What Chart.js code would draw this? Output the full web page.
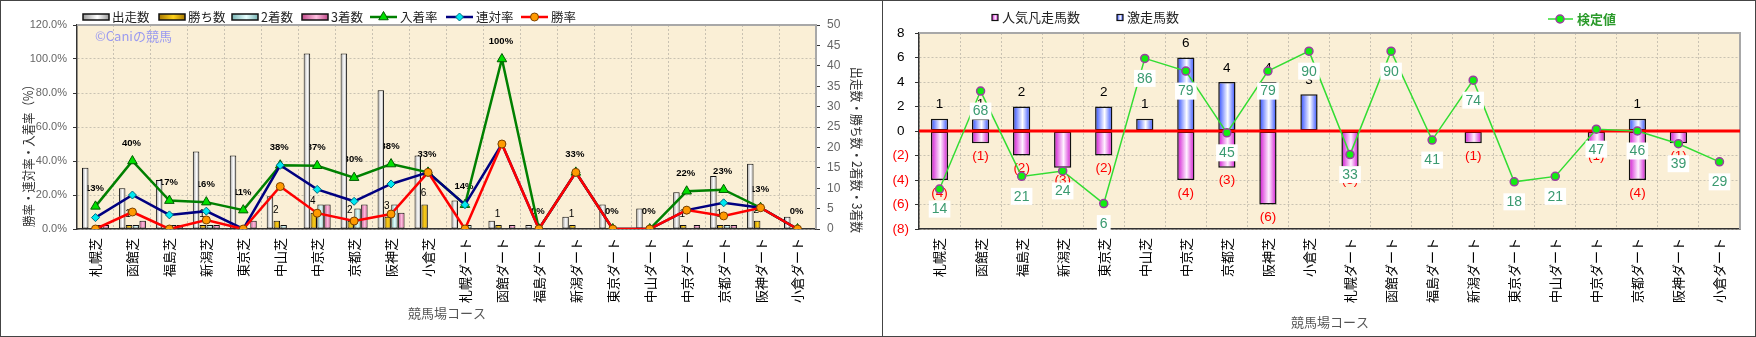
<!DOCTYPE html>
<html><head><meta charset="utf-8">
<script src="https://cdn.jsdelivr.net/npm/chart.js@4.4.0/dist/chart.umd.min.js"></script>
<style>
html,body{margin:0;padding:0;background:#fff;width:1756px;height:337px;overflow:hidden;}
.panel{position:absolute;top:0;height:337px;box-sizing:border-box;border:1px solid #444;background:#fff;}
#p1{left:0;width:883px;}
#p2{left:882px;width:874px;}
canvas{display:block;}
</style></head><body>
<div class="panel" id="p1"><canvas id="c1" width="881" height="335"></canvas></div>
<div class="panel" id="p2"><canvas id="c2" width="872" height="335"></canvas></div>
<script>
// ---------- data ----------
const categories = ['札幌芝','函館芝','福島芝','新潟芝','東京芝','中山芝','中京芝','京都芝','阪神芝','小倉芝',
  '札幌ダート','函館ダート','福島ダート','新潟ダート','東京ダート','中山ダート','中京ダート','京都ダート','阪神ダート','小倉ダート'];
const starts   = [15,10,12,19,18,8,43,43,34,18, 7,2,1,3,6,5,9,13,16,3];
const wins     = [0,1,0,1,0,2,4,2,3,6, 0,1,0,1,0,0,1,1,2,0];
const seconds  = [1,1,1,1,0,1,6,5,6,0, 1,0,0,0,0,0,0,1,0,0];
const thirds   = [1,2,1,1,2,0,6,6,4,0, 0,1,0,0,0,0,1,1,0,0];
const placeRate    = [13.3,40,16.7,15.8,11.1,37.5,37.2,30.2,38.2,33.3, 14.3,100,0,33.3,0,0,22.2,23.1,12.5,0];
const quinellaRate = [6.7,20,8.3,10.5,0,37.5,23.3,16.3,26.5,33.3, 14.3,50,0,33.3,0,0,11.1,15.4,12.5,0];
const winRate      = [0,10,0,5.3,0,25,9.3,4.7,8.8,33.3, 0,50,0,33.3,0,0,11.1,7.7,12.5,0];
const rateTicks = [0,20,40,60,80,100,120];
const countTicks = [0,5,10,15,20,25,30,35,40,45,50];

const hotCount  = [1,1,2,0,2,1,6,4,4,3, 0,0,0,0,0,0,0,1,0,0];
const flopCount = [-4,-1,-2,-3,-2,0,-4,-3,-6,0, -3,0,0,-1,0,0,-1,-4,-1,0];
const testValue = [14,68,21,24,6,86,79,45,79,90, 33,90,41,74,18,21,47,46,39,29];
const diffTicks = [-8,-6,-4,-2,0,2,4,6,8];

// ---------- helpers ----------
const FONT_JP = '"Noto Sans CJK JP", "Noto Sans", sans-serif';
const FONT_NUM = '"Liberation Sans", Arial, sans-serif';
Chart.defaults.font.family = FONT_JP;

function hGrad(ctx, x0, x1, edge, mid) {
  const g = ctx.createLinearGradient(x0, 0, x1, 0);
  g.addColorStop(0, edge); g.addColorStop(0.55, mid); g.addColorStop(1, edge);
  return g;
}
function marker(ctx, style, x, y, r, fill, stroke, lw) {
  ctx.save(); ctx.beginPath();
  if (style === 'triangle') {
    ctx.moveTo(x, y - r); ctx.lineTo(x + r*0.866, y + r*0.5); ctx.lineTo(x - r*0.866, y + r*0.5); ctx.closePath();
  } else if (style === 'rectRot') {
    ctx.moveTo(x, y - r); ctx.lineTo(x + r, y); ctx.lineTo(x, y + r); ctx.lineTo(x - r, y); ctx.closePath();
  } else { ctx.arc(x, y, r, 0, Math.PI*2); }
  ctx.fillStyle = fill; ctx.fill(); ctx.lineWidth = lw; ctx.strokeStyle = stroke; ctx.stroke(); ctx.restore();
}
// rotated text squeezed to a given length
function vText(ctx, text, cx, cy, angle, len) {
  ctx.save(); ctx.translate(cx, cy); ctx.rotate(angle);
  const w = ctx.measureText(text).width;
  if (w > len) ctx.scale(len / w, 1);
  ctx.fillText(text, 0, 0); ctx.restore();
}
const gradientBars = {
  id: 'gradientBars',
  beforeDatasetsDraw(chart) {
    chart.data.datasets.forEach((ds, i) => {
      if (!ds.grad) return;
      const meta = chart.getDatasetMeta(i);
      meta.data.forEach(el => {
        const w = Math.abs(el.width);
        el.options = Object.assign({}, el.options, {backgroundColor: hGrad(chart.ctx, el.x - w/2, el.x + w/2, ds.grad[0], ds.grad[1])});
      });
    });
  }
};
function frame(ctx, a) {
  ctx.save(); ctx.strokeStyle = '#a8a8a8'; ctx.lineWidth = 2;
  ctx.beginPath(); ctx.moveTo(a.left, a.top); ctx.lineTo(a.right, a.top); ctx.lineTo(a.right, a.bottom); ctx.stroke(); ctx.restore();
}

// ---------- left chart ----------
const BG = '#faefd6';
const GRID = '#c9c2b2';
const decor1 = {
  id: 'decor1',
  beforeDraw(chart) {
    const {ctx, chartArea: a} = chart;
    ctx.save(); ctx.fillStyle = BG; ctx.fillRect(a.left, a.top, a.right - a.left, a.bottom - a.top); ctx.restore();
  },
  beforeDatasetsDraw(chart) {
    const {ctx, chartArea: a} = chart;
    frame(ctx, a);
    ctx.save();
    ctx.font = '13px ' + FONT_JP; ctx.fillStyle = '#9a9af0'; ctx.textBaseline = 'middle'; ctx.textAlign = 'left';
    ctx.fillText('©Caniの競馬', 94, 35.5);
    // 入着率 labels
    const pm = chart.getDatasetMeta(2);
    ctx.font = 'bold 9.5px ' + FONT_NUM; ctx.fillStyle = '#000'; ctx.textAlign = 'center';
    pm.data.forEach((p, j) => { ctx.fillText(Math.round(placeRate[j]) + '%', p.x - 1, p.y - 18); });
    // 勝ち数 labels
    const wm = chart.getDatasetMeta(4);
    ctx.font = '10px ' + FONT_NUM;
    wm.data.forEach((b, j) => { if (wins[j] > 0) ctx.fillText(String(wins[j]), b.x - 1, b.y - 11); });
    ctx.restore();
  },
  afterDraw(chart) {
    const ctx = chart.ctx; const ds = chart.data.datasets;
    ctx.save();
    ctx.textBaseline = 'middle'; ctx.textAlign = 'left';
    ctx.font = '12.5px ' + FONT_JP; ctx.fillStyle = '#222';
    const y = 16;
    [[82, 3], [158, 4], [231, 5], [301, 6]].forEach(([x, i]) => {
      ctx.fillStyle = hGrad(ctx, x, x + 26, ds[i].grad[0], ds[i].grad[1]);
      ctx.fillRect(x, y - 3, 26, 6);
      ctx.lineWidth = 1.5; ctx.strokeStyle = '#111'; ctx.strokeRect(x, y - 3, 26, 6);
      ctx.fillStyle = '#222'; ctx.fillText(ds[i].label, x + 29, y);
    });
    [[369, 2], [445, 1], [520, 0]].forEach(([x, i]) => {
      const d = ds[i];
      ctx.strokeStyle = d.borderColor; ctx.lineWidth = 2.5;
      ctx.beginPath(); ctx.moveTo(x, y); ctx.lineTo(x + 27, y); ctx.stroke();
      marker(ctx, d.pointStyle, x + 13.5, y, d.pointRadius, d.pointBackgroundColor, d.pointBorderColor, 1);
      ctx.fillStyle = '#222'; ctx.fillText(d.label, x + 30, y);
    });
    // axis titles
    ctx.fillStyle = '#333'; ctx.font = '13px ' + FONT_JP; ctx.textAlign = 'center';
    vText(ctx, '勝率・連対率・入着率（%）', 27, 152, -Math.PI/2, 148);
    vText(ctx, '出走数・勝ち数・2着数・3着数', 856, 149, Math.PI/2, 166);
    ctx.fillStyle = '#555'; ctx.fillText('競馬場コース', 446, 312);
    ctx.restore();
  }
};

const bw = c => (c.raw ? 1 : 0);
new Chart(document.getElementById('c1'), {
  data: {
    labels: categories,
    datasets: [
      {type:'line', label:'勝率', data: winRate, yAxisID:'y', order:0, borderColor:'#ff0000', borderWidth:2.5,
        pointStyle:'circle', pointRadius:4, pointBackgroundColor:'#ff9a00', pointBorderColor:'#7a4000', pointBorderWidth:1, tension:0},
      {type:'line', label:'連対率', data: quinellaRate, yAxisID:'y', order:1, borderColor:'#000080', borderWidth:2.5,
        pointStyle:'rectRot', pointRadius:4, pointBackgroundColor:'#00e8f0', pointBorderColor:'#006a80', pointBorderWidth:1, tension:0},
      {type:'line', label:'入着率', data: placeRate, yAxisID:'y', order:2, borderColor:'#008000', borderWidth:2.5,
        pointStyle:'triangle', pointRadius:5.5, pointBackgroundColor:'#00e000', pointBorderColor:'#005a00', pointBorderWidth:1, tension:0},
      {type:'bar', label:'出走数', data: starts, yAxisID:'y1', order:10, grad:['#9a9a9a','#ffffff'], backgroundColor:'#eee', borderColor:'#111', borderWidth: bw, borderSkipped:false},
      {type:'bar', label:'勝ち数', data: wins, yAxisID:'y1', order:10, grad:['#a87800','#ffd21a'], backgroundColor:'#e8b000', borderColor:'#111', borderWidth: bw, borderSkipped:false},
      {type:'bar', label:'2着数', data: seconds, yAxisID:'y1', order:10, grad:['#78b4b4','#e6ffff'], backgroundColor:'#c0f0f0', borderColor:'#111', borderWidth: bw, borderSkipped:false},
      {type:'bar', label:'3着数', data: thirds, yAxisID:'y1', order:10, grad:['#c04a8a','#ffbfe0'], backgroundColor:'#f0a0c8', borderColor:'#111', borderWidth: bw, borderSkipped:false}
    ]
  },
  options: {
    responsive:false, animation:false, devicePixelRatio:1,
    layout:{padding:{top:24, left:0, right:0, bottom:0}},
    datasets:{bar:{categoryPercentage:0.74, barPercentage:0.95}},
    plugins:{legend:{display:false}, tooltip:{enabled:false}},
    scales:{
      x:{type:'category', offset:true, grid:{offset:true, color:GRID, drawTicks:false}, border:{color:'#333', width:1.5, dash:[2,2]},
        ticks:{autoSkip:false, minRotation:90, maxRotation:90, padding:9, color:'#000', font:{family:FONT_JP, size:13}},
        afterFit(s){ s.height = 107; }},
      y:{position:'left', min:0, max:120, afterBuildTicks(s){ s.ticks = rateTicks.map(v => ({value:v})); },
        ticks:{callback:v => Number(v).toFixed(1) + '%', color:'#666', font:{family:FONT_NUM, size:11}, padding:6},
        grid:{color:GRID, tickLength:4, tickColor:'#333'}, border:{color:'#333', width:1.5, dash:[2,2]},
        afterFit(s){ s.width = 76; }},
      y1:{position:'right', min:0, max:50, afterBuildTicks(s){ s.ticks = countTicks.map(v => ({value:v})); },
        ticks:{color:'#666', font:{family:FONT_NUM, size:12}, padding:7},
        grid:{drawOnChartArea:false, tickLength:4, tickColor:'#333'}, border:{color:'#333', width:1.5},
        afterFit(s){ s.width = 66; }}
    }
  },
  plugins:[decor1, gradientBars]
});

// ---------- right chart ----------
const decor2 = {
  id: 'decor2',
  beforeDraw(chart) {
    const {ctx, chartArea: a} = chart;
    ctx.save(); ctx.fillStyle = BG; ctx.fillRect(a.left, a.top, a.right - a.left, a.bottom - a.top); ctx.restore();
  },
  beforeDatasetsDraw(chart) { frame(chart.ctx, chart.chartArea); },
  beforeDatasetDraw(chart, args) {
    if (args.index !== 0) return;
    const {ctx, chartArea: a, scales} = chart;
    const y0 = scales.y.getPixelForValue(0);
    ctx.save();
    ctx.strokeStyle = '#ff0000'; ctx.lineWidth = 3;
    ctx.beginPath(); ctx.moveTo(a.left, y0); ctx.lineTo(a.right, y0); ctx.stroke();
    ctx.textAlign = 'center'; ctx.textBaseline = 'middle'; ctx.font = '13.5px ' + FONT_NUM;
    const hm = chart.getDatasetMeta(2), fm = chart.getDatasetMeta(1);
    hm.data.forEach((b, j) => { if (hotCount[j] > 0) { ctx.fillStyle = '#000'; ctx.fillText(String(hotCount[j]), b.x, b.y - 14); } });
    fm.data.forEach((b, j) => { if (flopCount[j] < 0) { ctx.fillStyle = '#ff0000'; ctx.fillText('(' + (-flopCount[j]) + ')', b.x, b.y + 13); } });
    ctx.restore();
  },
  afterDatasetsDraw(chart) {
    const ctx = chart.ctx;
    const lm = chart.getDatasetMeta(0);
    ctx.save();
    ctx.font = '14px ' + FONT_NUM; ctx.textAlign = 'center'; ctx.textBaseline = 'middle';
    lm.data.forEach((p, j) => {
      const t = String(testValue[j]); const w = ctx.measureText(t).width + 6;
      ctx.fillStyle = '#ffffff'; ctx.fillRect(p.x - w/2, p.y + 20 - 8.5, w, 17);
      ctx.fillStyle = '#3a9a70'; ctx.fillText(t, p.x, p.y + 20.5);
    });
    ctx.restore();
  },
  afterDraw(chart) {
    const ctx = chart.ctx; const ds = chart.data.datasets;
    ctx.save();
    ctx.textBaseline = 'middle'; ctx.textAlign = 'left'; ctx.font = '13px ' + FONT_JP;
    const y = 16.5;
    [[109, 1], [234, 2]].forEach(([x, i]) => {
      ctx.fillStyle = hGrad(ctx, x, x + 6, ds[i].grad[0], ds[i].grad[1]);
      ctx.fillRect(x, y - 3, 6, 6); ctx.lineWidth = 1.2; ctx.strokeStyle = '#111'; ctx.strokeRect(x, y - 3, 6, 6);
      ctx.fillStyle = '#222'; ctx.fillText(ds[i].label, x + 10, y);
    });
    const d = ds[0]; const yl = 18;
    ctx.strokeStyle = d.borderColor; ctx.lineWidth = 1.5;
    ctx.beginPath(); ctx.moveTo(665, yl); ctx.lineTo(690, yl); ctx.stroke();
    marker(ctx, 'circle', 677, yl, 4, d.pointBackgroundColor, d.pointBorderColor, 1.5);
    ctx.font = 'bold 13px ' + FONT_JP; ctx.fillStyle = '#2a9a2a'; ctx.fillText(d.label, 694, yl);
    ctx.fillStyle = '#555'; ctx.font = '13px ' + FONT_JP; ctx.textAlign = 'center';
    ctx.fillText('競馬場コース', 447, 321);
    ctx.restore();
  }
};

const bw2 = c => (c.raw ? 1.5 : 0);
new Chart(document.getElementById('c2'), {
  data: {
    labels: categories,
    datasets: [
      {type:'line', label:'検定値', data:testValue, yAxisID:'y2', order:0, borderColor:'#33dd33', borderWidth:1.5, tension:0,
        pointStyle:'circle', pointRadius:4, pointBackgroundColor:'#11ee11', pointBorderColor:'#9a3fa0', pointBorderWidth:1.5},
      {type:'bar', label:'人気凡走馬数', data:flopCount, yAxisID:'y', order:5, grad:['#d010d0','#fff2ff'], backgroundColor:'#f0a0f0', borderColor:'#111', borderWidth:bw2, borderSkipped:false},
      {type:'bar', label:'激走馬数', data:hotCount, yAxisID:'y', order:5, grad:['#2a48ff','#ffffff'], backgroundColor:'#aab8ff', borderColor:'#111', borderWidth:bw2, borderSkipped:false}
    ]
  },
  options: {
    responsive:false, animation:false, devicePixelRatio:1,
    layout:{padding:{top:32, left:0, right:15, bottom:0}},
    datasets:{bar:{categoryPercentage:1, barPercentage:0.42}},
    plugins:{legend:{display:false}, tooltip:{enabled:false}},
    scales:{
      x:{type:'category', stacked:true, offset:true, grid:{offset:true, color:GRID, drawTicks:false}, border:{color:'#333', width:1.5, dash:[2,2]},
        ticks:{autoSkip:false, minRotation:90, maxRotation:90, padding:9, color:'#000', font:{family:FONT_JP, size:13}},
        afterFit(s){ s.height = 107; }},
      y:{stacked:true, min:-8, max:8, afterBuildTicks(s){ s.ticks = diffTicks.map(v => ({value:v})); },
        ticks:{callback:v => (v < 0 ? '(' + (-v) + ')' : String(v)), color:c => (c.tick && c.tick.value < 0 ? '#ff0000' : '#000'),
          font:{family:FONT_NUM, size:13.5}, padding:6, crossAlign:'center'},
        grid:{color:GRID, tickLength:4, tickColor:'#333'}, border:{color:'#333', width:1.5, dash:[2,2]},
        afterFit(s){ s.width = 36; }},
      y2:{display:false, min:-8, max:100}
    }
  },
  plugins:[decor2, gradientBars]
});
</script>
</body></html>
